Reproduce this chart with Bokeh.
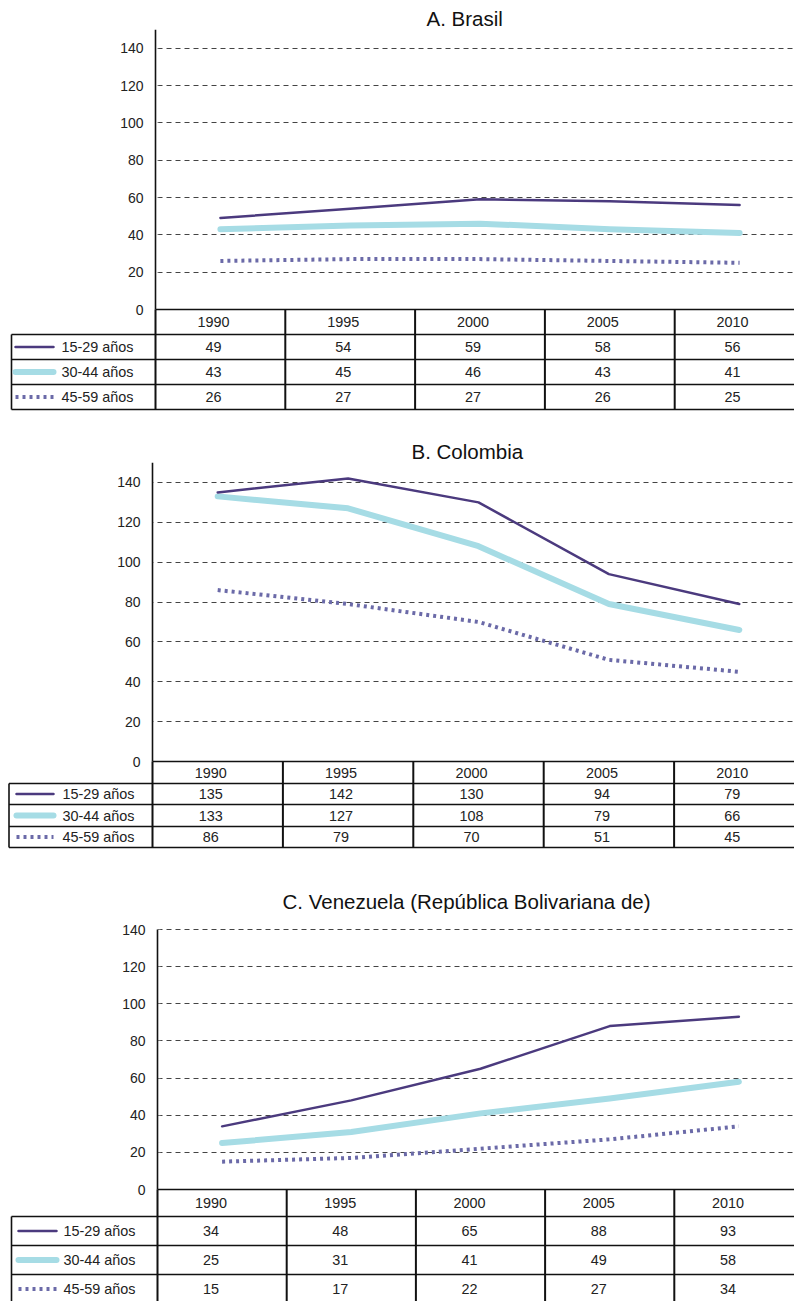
from bokeh.plotting import figure
from bokeh.layouts import column
from bokeh.models import Range1d, FixedTicker, ColumnDataSource, BoxAnnotation
from bokeh.core.properties import value
from bokeh.embed import file_html
from bokeh.resources import INLINE

# ---------------- data ----------------
years = [1990, 1995, 2000, 2005, 2010]
series_names = ["15-29 años", "30-44 años", "45-59 años"]
titles = ["A. Brasil", "B. Colombia", "C. Venezuela (República Bolivariana de)"]
y_ticks = [0, 20, 40, 60, 80, 100, 120, 140]

brasil_15_29 = [49, 54, 59, 58, 56]
brasil_30_44 = [43, 45, 46, 43, 41]
brasil_45_59 = [26, 27, 27, 26, 25]

colombia_15_29 = [135, 142, 130, 94, 79]
colombia_30_44 = [133, 127, 108, 79, 66]
colombia_45_59 = [86, 79, 70, 51, 45]

venezuela_15_29 = [34, 48, 65, 88, 93]
venezuela_30_44 = [25, 31, 41, 49, 58]
venezuela_45_59 = [15, 17, 22, 27, 34]

# ---------------- styles / layout ----------------
FONT = "Liberation Sans"
W = 794
styles = [
    dict(line_color="#4b3a7e", line_width=2.5, line_dash="solid", line_cap="round"),
    dict(line_color="#a6dce5", line_width=6, line_dash="solid", line_cap="round"),
    dict(line_color="#6b6aa8", line_width=4, line_dash="3 4", line_cap="butt"),
]

# all positions in page pixels
panels = [
    dict(title=titles[0], series=[brasil_15_29, brasil_30_44, brasil_45_59],
         fig_top=0, frame_top=29, axis_top=29, zero=309, fig_bottom=411, ymax=150,
         axis_x=155, col_w=129.8, title_left=426, title_standoff=0,
         tbl_left=11, rows=[309, 334, 359, 384, 409],
         leg=(15, 53, 61), txt_dx=-7),
    dict(title=titles[1], series=[colombia_15_29, colombia_30_44, colombia_45_59],
         fig_top=411, frame_top=462, axis_top=462, zero=761, fig_bottom=849, ymax=150,
         axis_x=152, col_w=130.4, title_left=411, title_standoff=0,
         tbl_left=8.5, rows=[761, 783, 804, 826, 847],
         leg=(16, 53, 62), txt_dx=-7),
    dict(title=titles[2], series=[venezuela_15_29, venezuela_30_44, venezuela_45_59],
         fig_top=849, frame_top=919, axis_top=929, zero=1189, fig_bottom=1301, ymax=140,
         axis_x=157, col_w=129.2, title_left=282, title_standoff=14,
         tbl_left=11, rows=[1189, 1216, 1245, 1274, 1303],
         leg=(18, 56, 63), txt_dx=-11),
]


def make_panel(pan):
    ax_x, cw = pan["axis_x"], pan["col_w"]
    base = years[0] - 2.5
    s = (pan["zero"] - pan["axis_top"]) / pan["ymax"]   # px per unit

    def px2x(px):
        return base + (px - ax_x) / cw * 5

    def px2y(py):
        return (pan["zero"] - py) / s

    x0, x1 = px2x(0), px2x(W)
    y0 = px2y(pan["fig_bottom"])
    y1 = px2y(pan["frame_top"])
    top_border = pan["frame_top"] - pan["fig_top"]
    height = pan["fig_bottom"] - pan["fig_top"]

    p = figure(width=W, height=height,
               x_range=Range1d(x0, x1), y_range=Range1d(y0, y1),
               x_axis_location=None, tools="", toolbar_location=None,
               output_backend="svg",
               min_border_left=0, min_border_right=0,
               min_border_top=top_border, min_border_bottom=0)
    p.outline_line_color = None
    p.background_fill_color = "white"
    p.border_fill_color = "white"

    p.title.text = pan["title"]
    p.title.align = "left"
    p.title.offset = pan["title_left"]
    p.title.standoff = pan["title_standoff"]
    p.title.text_font = FONT
    p.title.text_font_size = "20.5px"
    p.title.text_font_style = "normal"
    p.title.text_color = "#111111"

    ax = p.yaxis[0]
    ax.fixed_location = base
    ax.ticker = FixedTicker(ticks=y_ticks)
    ax.bounds = (0, pan["ymax"])
    ax.axis_line_color = "#111111"
    ax.axis_line_width = 1.6
    ax.major_tick_line_color = None
    ax.minor_tick_line_color = None
    ax.major_tick_out = 0
    ax.major_tick_in = 0
    ax.major_label_standoff = 12
    ax.major_label_text_font = FONT
    ax.major_label_text_font_size = "14px"
    ax.major_label_text_color = "#222222"

    p.xgrid.visible = False
    p.ygrid.ticker = FixedTicker(ticks=y_ticks[1:])
    p.ygrid.grid_line_color = "#444444"
    p.ygrid.grid_line_dash = "5 4"
    p.ygrid.grid_line_dash_offset = 5
    p.ygrid.grid_line_width = 1
    # keep grid lines to the right of the y axis
    p.add_layout(BoxAnnotation(left=x0 - 2, right=base, fill_color="white",
                               fill_alpha=1.0, line_color="white", line_width=6,
                               level="underlay"))

    # ----- series lines -----
    for i in [1, 0, 2]:
        st = styles[i]
        p.line(years, pan["series"][i], line_color=st["line_color"],
               line_width=st["line_width"], line_dash=st["line_dash"],
               line_cap=st["line_cap"], line_join="round")

    # ----- table below the chart -----
    rows = [px2y(r) for r in pan["rows"]]
    left = px2x(pan["tbl_left"])
    right = x1 + 1
    hx0 = [base] + [left] * 4
    p.segment(x0=hx0, y0=rows, x1=[right] * 5, y1=rows,
              line_color="#111111", line_width=1.6)
    bounds = [base + 5 * k for k in range(len(years) + 1)]
    p.segment(x0=bounds, y0=[rows[0]] * len(bounds), x1=bounds,
              y1=[rows[-1]] * len(bounds), line_color="#111111", line_width=2)
    p.segment(x0=[left], y0=[rows[1]], x1=[left], y1=[rows[-1]],
              line_color="#111111", line_width=1.6)

    hc = (rows[0] + rows[1]) / 2
    p.text(x=years, y=[hc] * len(years), text=[str(y) for y in years],
           text_align="center", text_baseline="middle", x_offset=pan["txt_dx"],
           text_font=value(FONT), text_font_size="14.4px", text_color="#222222")

    lx0, lx1, ltx = pan["leg"]
    for i, vals in enumerate(pan["series"]):
        yc = (rows[i + 1] + rows[i + 2]) / 2
        src = ColumnDataSource(dict(x=years, y=[yc] * len(years),
                                    t=[str(v) for v in vals]))
        p.text(x="x", y="y", text="t", source=src, text_align="center",
               text_baseline="middle", x_offset=pan["txt_dx"],
               text_font=value(FONT), text_font_size="14.4px",
               text_color="#222222")
        st = styles[i]
        p.line([px2x(lx0), px2x(lx1)], [yc, yc], line_color=st["line_color"],
               line_width=st["line_width"], line_dash=st["line_dash"],
               line_cap=st["line_cap"])
        p.text(x=[px2x(ltx)], y=[yc], text=[series_names[i]],
               text_align="left", text_baseline="middle",
               text_font=value(FONT), text_font_size="14.4px",
               text_color="#222222")
    return p


layout = column(*[make_panel(pan) for pan in panels], spacing=0)
open("out.html", "w").write(file_html(layout, INLINE))
